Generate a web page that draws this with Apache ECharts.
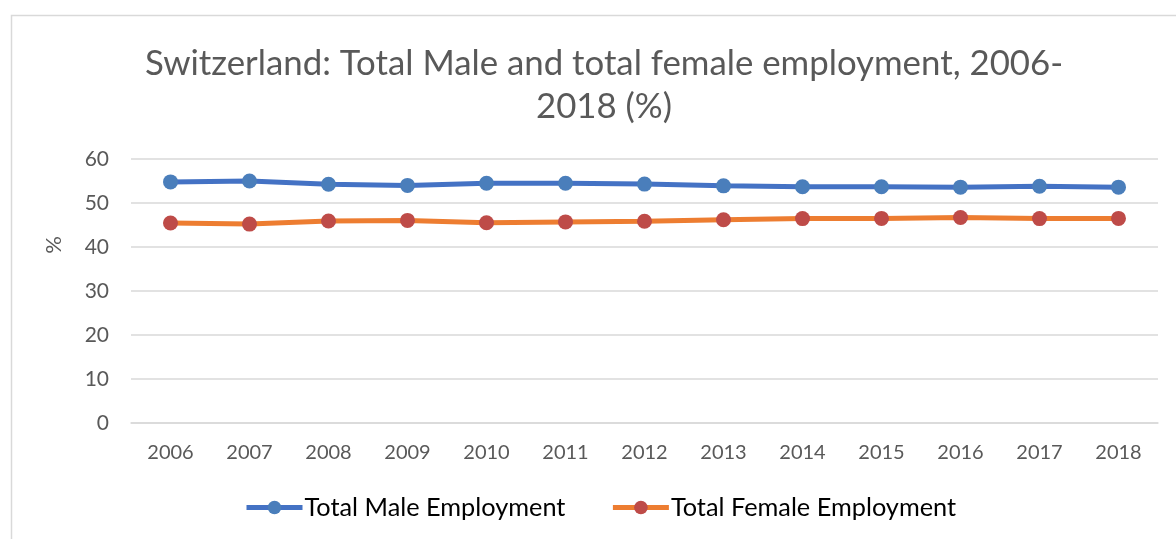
<!DOCTYPE html>
<html><head><meta charset="utf-8">
<script src="https://cdn.jsdelivr.net/npm/echarts@6/dist/echarts.min.js"></script>
<style>html,body{margin:0;padding:0;background:#fff}#c{width:1176px;height:539px}</style>
</head><body><div id="c"></div>
<script>
const years = ['2006','2007','2008','2009','2010','2011','2012','2013','2014','2015','2016','2017','2018'];
const maleEmployment = [54.8, 55.0, 54.25, 54.0, 54.5, 54.5, 54.3, 53.9, 53.7, 53.7, 53.6, 53.8, 53.6];
const femaleEmployment = [45.45, 45.2, 45.9, 46.05, 45.5, 45.7, 45.85, 46.2, 46.45, 46.5, 46.7, 46.45, 46.5];
const yTicks = {min: 0, max: 60, interval: 10};
const FONT = 'Lato, "Open Sans", sans-serif';
const chart = echarts.init(document.getElementById('c'));
chart.setOption({
  animation: false,
  backgroundColor: '#fff',
  graphic: [
    {type:'rect', shape:{x:11.5,y:15.5,width:1200,height:600}, style:{fill:'none',stroke:'#d9d9d9',lineWidth:1.5}, silent:true},
    {type:'text', x:54, y:245, rotation:Math.PI/2, style:{text:'%', fontFamily:FONT, fontSize:22, fill:'#595959', align:'center', verticalAlign:'middle'}, silent:true}
  ],
  title: {
    text: 'Switzerland: Total Male and total female employment, 2006-\n2018 (%)',
    left: 599, top: 37, textAlign: 'center',
    textStyle: {fontFamily: FONT, fontSize: 34.8, fontWeight: 'normal', color: '#595959', lineHeight: 43}
  },
  legend: {
    bottom: 14, left: 239, itemGap: 45, itemWidth: 56, itemHeight: 17,
    textStyle: {fontFamily: FONT, fontSize: 25.3, color: '#000', padding:[0,0,0,-3]},
    lineStyle: {width: 5},
    data: ['Total Male Employment', 'Total Female Employment']
  },
  grid: {left: 131, right: 18, top: 159, bottom: 116},
  xAxis: {
    type: 'category', data: years, boundaryGap: true,
    axisLine: {show: true, lineStyle: {color: '#d9d9d9', width: 1.5}},
    axisTick: {show: false},
    axisLabel: {fontFamily: FONT, fontSize: 20, color: '#595959', margin: 20}
  },
  yAxis: {
    type: 'value', min: yTicks.min, max: yTicks.max, interval: yTicks.interval,
    axisLine: {show: false}, axisTick: {show: false},
    splitLine: {lineStyle: {color: '#d9d9d9', width: 1.5}},
    axisLabel: {fontFamily: FONT, fontSize: 21, color: '#595959', margin: 22}
  },
  series: [
    {name: 'Total Male Employment', type: 'line', data: maleEmployment,
     symbol: 'circle', symbolSize: 15,
     lineStyle: {color: '#4472C4', width: 5},
     itemStyle: {color: '#4A7EBB'}},
    {name: 'Total Female Employment', type: 'line', data: femaleEmployment,
     symbol: 'circle', symbolSize: 15,
     lineStyle: {color: '#ED7D31', width: 5},
     itemStyle: {color: '#BE4B48'}}
  ]
});
</script></body></html>
